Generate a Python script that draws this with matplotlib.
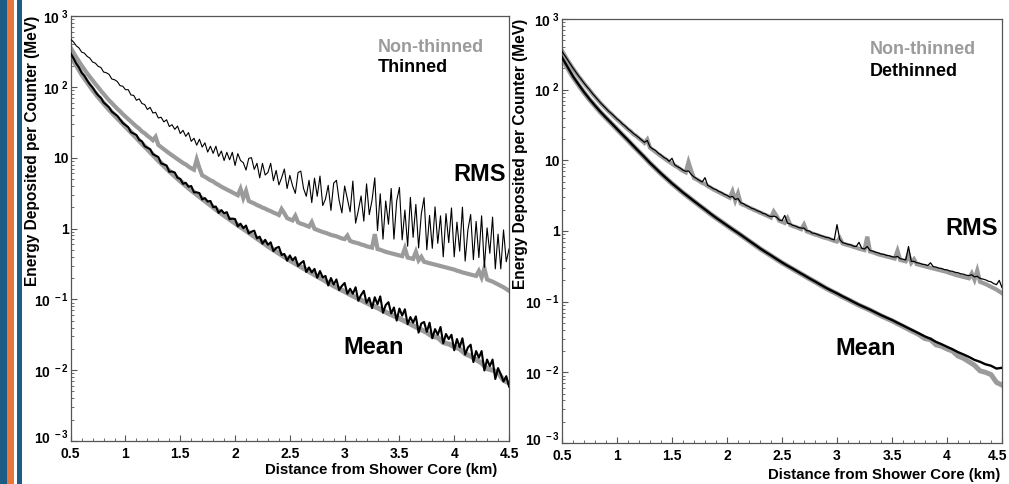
import numpy as np
import matplotlib
matplotlib.use("Agg")
import matplotlib.pyplot as plt
import matplotlib.transforms as mtransforms
from matplotlib.patches import Rectangle
from matplotlib.ticker import FixedLocator, FixedFormatter, LogLocator, NullFormatter, MultipleLocator

plt.rcParams['font.family'] = ['Liberation Sans', 'DejaVu Sans']
plt.rcParams['font.weight'] = 'bold'
plt.rcParams['mathtext.fontset'] = 'custom'
plt.rcParams['mathtext.rm'] = 'Liberation Sans:bold'
plt.rcParams['mathtext.bf'] = 'Liberation Sans:bold'
plt.rcParams['mathtext.it'] = 'Liberation Sans:bold'

# ---------------- data ----------------
# coarse grid (0.05 km bins) and fine grid (0.025 km bins)
x_coarse = np.linspace(0.5, 4.5, 81)
x_fine = np.linspace(0.5, 4.5, 161)

nonthin_mean = [275, 204, 151, 117, 91.2, 72.4, 58.9, 47.9, 39.8, 33.1,
                27.5, 22.9, 19.1, 15.8, 13.2, 11.0, 9.12, 7.67, 6.46, 5.50,
                4.68, 4.03, 3.47, 3.02, 2.63, 2.29, 2.00, 1.74, 1.53, 1.35,
                1.19, 1.05, 0.933, 0.822, 0.724, 0.638, 0.562, 0.501, 0.447, 0.398,
                0.355, 0.320, 0.288, 0.260, 0.234, 0.211, 0.191, 0.172, 0.155, 0.141,
                0.129, 0.117, 0.107, 0.0977, 0.0891, 0.0822, 0.0759, 0.0692, 0.0631, 0.0582,
                0.0537, 0.0490, 0.0447, 0.0407, 0.0372, 0.0339, 0.0300, 0.0290, 0.0245, 0.0234,
                0.0214, 0.0200, 0.0170, 0.0158, 0.0141, 0.0126, 0.0105, 0.0100, 0.0093, 0.0072, 0.0066]

dethin_mean = [285, 210, 154, 119, 92.5, 73.5, 59.5, 48.5, 40.2, 33.5,
               27.8, 23.1, 19.3, 16.0, 13.3, 11.1, 9.20, 7.75, 6.52, 5.55,
               4.72, 4.07, 3.50, 3.05, 2.65, 2.31, 2.02, 1.76, 1.54, 1.36,
               1.20, 1.06, 0.940, 0.830, 0.730, 0.645, 0.568, 0.505, 0.452, 0.402,
               0.359, 0.322, 0.292, 0.262, 0.237, 0.213, 0.193, 0.174, 0.157, 0.143,
               0.131, 0.119, 0.109, 0.0990, 0.0905, 0.0835, 0.0770, 0.0705, 0.0645, 0.0595,
               0.0550, 0.0502, 0.0460, 0.0420, 0.0385, 0.0352, 0.0322, 0.0298, 0.0270, 0.0250,
               0.0230, 0.0212, 0.0193, 0.0179, 0.0165, 0.0150, 0.0141, 0.0130, 0.0124, 0.0113, 0.0116]

thin_mean = [295, 254, 214, 188, 158, 143, 123, 108, 97.7, 85.1,
             75.9, 70.0, 60.3, 55.6, 51.3, 44.7, 41.7, 38.9, 34.7, 30.9,
             28.8, 26.9, 22.9, 21.9, 20.9, 17.8, 17.0, 14.5, 13.8, 13.2,
             11.2, 10.7, 10.2, 8.32, 8.04, 7.76, 6.31, 6.38, 6.17, 5.19,
             5.01, 4.27, 4.42, 3.89, 3.98, 3.24, 3.24, 3.16, 2.57, 2.69,
             2.40, 2.45, 2.00, 2.04, 1.66, 1.82, 1.64, 1.70, 1.35, 1.38,
             1.36, 1.07, 1.17, 1.01, 1.10, 0.851, 0.902, 0.933, 0.724, 0.767,
             0.610, 0.692, 0.589, 0.638, 0.479, 0.531, 0.550, 0.422, 0.437, 0.351,
             0.417, 0.355, 0.394, 0.295, 0.324, 0.347, 0.243, 0.282, 0.240, 0.269,
             0.202, 0.251, 0.204, 0.214, 0.157, 0.200, 0.162, 0.191, 0.135, 0.155,
             0.170, 0.120, 0.141, 0.120, 0.148, 0.0955, 0.115, 0.132, 0.0891, 0.105,
             0.0750, 0.107, 0.0851, 0.110, 0.0646, 0.0832, 0.0912, 0.0631, 0.0767, 0.0501,
             0.0741, 0.0589, 0.0724, 0.0447, 0.0562, 0.0468, 0.0575, 0.0339, 0.0457, 0.0479,
             0.0347, 0.0468, 0.0282, 0.0380, 0.0316, 0.0407, 0.0240, 0.0324, 0.0275, 0.0316,
             0.0191, 0.0275, 0.0211, 0.0282, 0.0166, 0.0209, 0.0229, 0.0130, 0.0186, 0.0150,
             0.0186, 0.00989, 0.0141, 0.0114, 0.0141, 0.00750, 0.0107, 0.00871, 0.00692, 0.00822,
             0.00589]

nonthin_rms = [355, 305, 263, 229, 200, 176, 155, 138, 123, 110,
               98.9, 88.1, 79.4, 71.6, 64.6, 58.9, 53.7, 49.0, 45.2, 41.2,
               38.0, 35.1, 32.4, 29.9, 27.5, 25.7, 23.4, 22.1, 20.4, 19.1,
               17.6, 19.7, 15.1, 14.1, 13.2, 12.3, 11.5, 10.8, 10.1, 9.55,
               8.91, 8.41, 8.04, 7.50, 7.08, 6.76, 9.44, 7.08, 5.62, 5.37,
               5.07, 4.79, 4.62, 4.32, 4.12, 3.89, 3.72, 3.55, 3.39, 3.24,
               3.09, 2.95, 3.63, 2.69, 3.39, 2.45, 2.34, 2.26, 2.14, 2.07,
               1.97, 1.91, 1.82, 1.76, 1.68, 1.62, 1.55, 1.88, 1.64, 1.40,
               1.35, 1.30, 1.51, 1.22, 1.17, 1.14, 1.10, 1.06, 1.23, 0.989,
               0.955, 0.923, 0.891, 0.871, 0.841, 0.813, 0.794, 0.776, 0.750, 0.724,
               0.708, 0.794, 0.668, 0.646, 0.631, 0.617, 0.596, 0.582, 0.562, 0.550,
               0.537, 0.832, 0.513, 0.501, 0.484, 0.468, 0.457, 0.447, 0.437, 0.427,
               0.417, 0.407, 0.525, 0.389, 0.380, 0.372, 0.468, 0.355, 0.398, 0.339,
               0.331, 0.324, 0.316, 0.309, 0.302, 0.295, 0.288, 0.282, 0.275, 0.269,
               0.263, 0.254, 0.248, 0.240, 0.234, 0.229, 0.224, 0.219, 0.214, 0.251,
               0.204, 0.275, 0.191, 0.184, 0.178, 0.170, 0.162, 0.155, 0.148, 0.140,
               0.132]

dethin_rms = [347, 305, 266, 232, 202, 178, 157, 140, 124, 111,
              100, 89.1, 80.4, 72.4, 65.3, 59.6, 54.3, 49.5, 45.7, 42.2,
              38.5, 35.9, 32.7, 30.5, 27.9, 26.0, 24.0, 22.4, 20.9, 19.3,
              18.0, 19.1, 15.5, 14.5, 13.8, 12.6, 11.9, 11.0, 10.5, 9.66,
              10.7, 8.61, 8.13, 7.76, 7.24, 7.00, 7.08, 6.31, 5.82, 5.50,
              5.19, 4.95, 5.69, 4.42, 4.22, 3.98, 3.85, 3.63, 3.51, 3.31,
              3.20, 3.02, 3.09, 2.79, 2.88, 2.51, 2.43, 2.29, 2.21, 2.09,
              2.04, 1.93, 1.88, 1.78, 1.74, 1.64, 1.60, 1.62, 1.58, 1.43,
              1.40, 1.66, 1.29, 1.26, 1.20, 1.17, 1.12, 1.10, 1.10, 1.01,
              1.00, 0.933, 0.923, 0.891, 0.861, 0.841, 0.813, 0.804, 0.767, 0.750,
              1.23, 0.759, 0.684, 0.668, 0.646, 0.638, 0.610, 0.603, 0.692, 0.569,
              0.556, 0.603, 0.531, 0.519, 0.501, 0.490, 0.473, 0.468, 0.452, 0.447,
              0.432, 0.427, 0.437, 0.407, 0.398, 0.389, 0.603, 0.372, 0.372, 0.355,
              0.351, 0.339, 0.335, 0.324, 0.355, 0.313, 0.309, 0.299, 0.295, 0.285,
              0.282, 0.272, 0.269, 0.260, 0.257, 0.248, 0.245, 0.237, 0.234, 0.240,
              0.224, 0.229, 0.214, 0.209, 0.204, 0.195, 0.191, 0.180, 0.174, 0.200,
              0.158]

thin_rms = [468, 432, 380, 355, 309, 299, 269, 254, 224, 216,
            195, 188, 162, 158, 150, 129, 126, 119, 104, 102,
            91.2, 91.2, 76.7, 75.9, 64.6, 67.6, 58.2, 56.2, 47.9, 51.3,
            42.7, 43.7, 36.3, 37.2, 32.0, 34.3, 27.5, 29.2, 25.1, 27.9,
            21.9, 24.3, 20.0, 22.6, 17.0, 18.8, 15.0, 18.2, 14.1, 16.2,
            12.0, 14.5, 11.5, 14.5, 10.4, 12.4, 9.12, 11.9, 9.33, 11.9,
            7.76, 11.4, 9.12, 8.50, 6.68, 9.77, 10.0, 6.84, 8.32, 5.19,
            8.32, 5.69, 6.20, 8.32, 4.73, 6.61, 4.12, 5.20, 6.92, 3.67,
            5.62, 4.00, 3.13, 6.17, 6.46, 3.67, 2.85, 4.79, 2.32, 5.13,
            2.85, 5.50, 2.11, 2.60, 4.07, 1.80, 4.37, 4.79, 2.48, 1.66,
            3.98, 2.60, 1.72, 4.68, 1.19, 1.80, 2.88, 1.27, 4.27, 1.57,
            2.51, 5.19, 0.933, 3.09, 0.708, 2.45, 1.15, 3.67, 0.708, 2.45,
            3.80, 0.692, 1.82, 0.562, 2.75, 0.750, 2.19, 0.531, 1.62, 2.72,
            0.501, 1.53, 0.525, 2.02, 0.617, 1.51, 0.398, 1.62, 0.631, 1.95,
            0.398, 1.23, 0.479, 2.00, 0.347, 0.955, 1.58, 0.363, 1.26, 0.389,
            1.51, 0.282, 1.02, 0.447, 1.45, 0.269, 0.832, 0.269, 0.955, 0.339,
            0.513]

ytick_vals = [1e-3, 1e-2, 1e-1, 1, 10, 1e2, 1e3]
ytick_labels = [r'$10^{\ -3}$', r'$10^{\ -2}$', r'$10^{\ -1}$',
                '1', '10', r'$10^{\ 2}$', r'$10^{\ 3}$']
xtick_vals = [0.5, 1, 1.5, 2, 2.5, 3, 3.5, 4, 4.5]
xtick_labels = ['0.5', '1', '1.5', '2', '2.5', '3', '3.5', '4', '4.5']

GREY = '#9b9b9b'
W, H = 1009, 484

fig = plt.figure(figsize=(W / 100, H / 100), dpi=100)

# decorative stripes at left edge
for x0, w, c in [(0, 7, '#1d5c84'), (7, 7, '#e8763a'), (17, 5, '#1d5c84')]:
    fig.patches.append(Rectangle((x0 / W, 0), w / W, 1, transform=fig.transFigure,
                                 facecolor=c, edgecolor='none', zorder=0))


def shift_label(lab, dx_px, dy_px):
    lab.set_transform(lab.get_transform() +
                      mtransforms.ScaledTranslation(dx_px / 100, dy_px / 100,
                                                    fig.dpi_scale_trans))


def make_axes(l, r, t, b):
    ax = fig.add_axes([l / W, 1 - b / H, (r - l) / W, (b - t) / H])
    ax.set_yscale('log')
    ax.set_xlim(0.5, 4.5)
    ax.set_ylim(1e-3, 1e3)
    ax.yaxis.set_major_locator(FixedLocator(ytick_vals))
    ax.yaxis.set_major_formatter(FixedFormatter(ytick_labels))
    ax.yaxis.set_minor_locator(LogLocator(base=10, subs=np.arange(2, 10), numticks=20))
    ax.yaxis.set_minor_formatter(NullFormatter())
    ax.xaxis.set_major_locator(FixedLocator(xtick_vals))
    ax.xaxis.set_major_formatter(FixedFormatter(xtick_labels))
    ax.xaxis.set_minor_locator(MultipleLocator(0.1))
    ax.tick_params(which='both', direction='in', top=False, right=False, color='#555555')
    ax.tick_params(which='major', length=4.5, width=0.8, labelsize=10)
    ax.tick_params(which='minor', length=2.3, width=0.6)
    ax.tick_params(axis='x', which='major', pad=4.5)
    ax.tick_params(axis='y', which='major', pad=1.5)
    for s in ax.spines.values():
        s.set_color('#555555')
        s.set_linewidth(0.9)
    for lab in ax.get_xticklabels() + ax.get_yticklabels():
        lab.set_fontweight('bold')
    # lift the lowest y label a little so it clears the first x label
    shift_label(ax.get_yticklabels()[0], 0, 5)
    return ax


# ---------- left panel ----------
ax1 = make_axes(70.7, 509, 16, 441)
ax1.plot(x_coarse, nonthin_mean, color=GREY, lw=3.6, solid_joinstyle='miter', zorder=2)
ax1.plot(x_fine, nonthin_rms, color=GREY, lw=3.0, solid_joinstyle='miter', zorder=2)
ax1.plot(x_fine, thin_mean, color='black', lw=1.5, zorder=3)
ax1.plot(x_fine, thin_rms, color='black', lw=0.8, zorder=3)
ax1.text(0.701, 0.927, 'Non-thinned', color=GREY, fontsize=13, fontweight='bold',
         transform=ax1.transAxes, va='center', ha='left')
ax1.text(0.701, 0.878, 'Thinned', color='black', fontsize=13, fontweight='bold',
         transform=ax1.transAxes, va='center', ha='left')
ax1.text(0.934, 0.626, 'RMS', fontsize=17, fontweight='bold', transform=ax1.transAxes,
         va='center', ha='center')
ax1.text(0.692, 0.221, 'Mean', fontsize=17, fontweight='bold', transform=ax1.transAxes,
         va='center', ha='center')
fig.text(497 / W, 1 - 470 / H, 'Distance from Shower Core (km)', fontsize=10.8,
         fontweight='bold', ha='right', va='center')
fig.text(33 / W, 1 - 16 / H, 'Energy Deposited per Counter (MeV)', fontsize=11.2,
         fontweight='bold', ha='center', va='top', rotation=90)

# ---------- right panel ----------
ax2 = make_axes(562, 1002, 19, 443)
ax2.plot(x_coarse, nonthin_mean, color=GREY, lw=3.6, solid_joinstyle='miter', zorder=2)
ax2.plot(x_fine, nonthin_rms, color=GREY, lw=3.0, solid_joinstyle='miter', zorder=2)
ax2.plot(x_coarse, dethin_mean, color='black', lw=1.7, zorder=3)
ax2.plot(x_fine, dethin_rms, color='black', lw=0.9, zorder=3)
ax2.text(0.70, 0.927, 'Non-thinned', color=GREY, fontsize=13, fontweight='bold',
         transform=ax2.transAxes, va='center', ha='left')
ax2.text(0.70, 0.875, 'Dethinned', color='black', fontsize=13, fontweight='bold',
         transform=ax2.transAxes, va='center', ha='left')
ax2.text(0.932, 0.507, 'RMS', fontsize=17, fontweight='bold', transform=ax2.transAxes,
         va='center', ha='center')
ax2.text(0.689, 0.222, 'Mean', fontsize=17, fontweight='bold', transform=ax2.transAxes,
         va='center', ha='center')
fig.text(1000 / W, 1 - 475 / H, 'Distance from Shower Core (km)', fontsize=10.8,
         fontweight='bold', ha='right', va='center')
fig.text(521 / W, 1 - 19 / H, 'Energy Deposited per Counter (MeV)', fontsize=11.2,
         fontweight='bold', ha='center', va='top', rotation=90)

# keep the last x tick label of the right panel inside the figure
shift_label(ax2.get_xticklabels()[-1], -4, 0)

fig.savefig('out.png', dpi=100)
